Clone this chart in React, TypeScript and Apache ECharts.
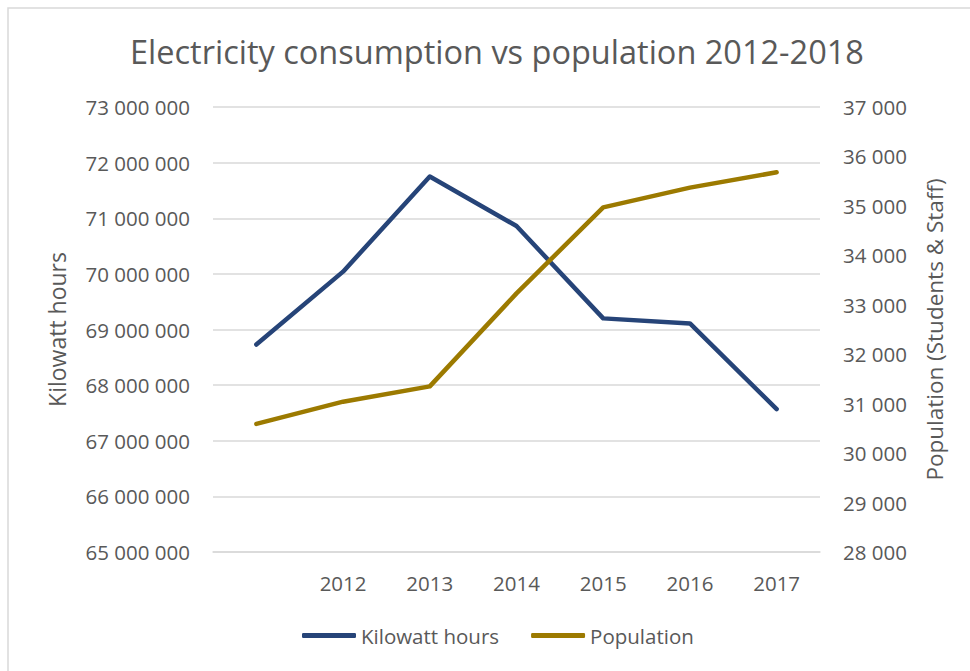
import React, { useEffect, useRef } from "react";
import * as echarts from "echarts";

const categories = ["", "2012", "2013", "2014", "2015", "2016", "2017"];
const kwhValues = [68730000, 70040000, 71750000, 70860000, 69200000, 69110000, 67570000];
const populationValues = [30590, 31040, 31350, 33230, 34970, 35370, 35680];

const FONT = "'Open Sans', sans-serif";
const TEXT = "#595959";
const GRID = "#d9d9d9";

const fmt = (v: number) => String(v).replace(/\B(?=(\d{3})+(?!\d))/g, " ");

export default function App() {
  const ref = useRef<HTMLDivElement>(null);
  useEffect(() => {
    if (!ref.current) return;
    const chart = echarts.init(ref.current, undefined, { renderer: "svg" });
    chart.setOption({
      animation: false,
      backgroundColor: "#ffffff",
      textStyle: { fontFamily: FONT },
      title: {
        text: "Electricity consumption vs population 2012-2018",
        left: 125,
        top: 30,
        textStyle: { fontFamily: FONT, fontSize: 32.5, fontWeight: "normal", color: TEXT },
      },
      graphic: [
        {
          type: "rect",
          shape: { x: 8, y: 8, width: 1200, height: 1200 },
          style: { fill: "none", stroke: GRID, lineWidth: 1.5 },
          silent: true,
        },
      ],
      legend: {
        top: 620,
        left: 297,
        itemWidth: 54,
        itemHeight: 5,
        itemGap: 32,
        icon: "roundRect",
        textStyle: { fontFamily: FONT, fontSize: 20.5, color: TEXT },
        data: ["Kilowatt hours", "Population"],
      },
      grid: { left: 213, right: 150, top: 107, bottom: 119 },
      xAxis: {
        type: "category",
        data: categories,
        boundaryGap: true,
        axisLine: { lineStyle: { color: GRID, width: 1.5 } },
        axisTick: { show: false },
        axisLabel: { color: TEXT, fontSize: 20.5, margin: 20, fontFamily: FONT },
      },
      yAxis: [
        {
          type: "value",
          min: 65000000,
          max: 73000000,
          interval: 1000000,
          name: "Kilowatt hours",
          nameLocation: "middle",
          nameGap: 145,
          nameRotate: 90,
          nameTextStyle: { color: TEXT, fontSize: 23, fontFamily: FONT },
          axisLine: { show: false },
          axisTick: { show: false },
          axisLabel: { color: TEXT, fontSize: 20.5, margin: 23, formatter: fmt, fontFamily: FONT },
          splitLine: { lineStyle: { color: GRID, width: 1.5 } },
        },
        {
          type: "value",
          position: "right",
          min: 28000,
          max: 37000,
          interval: 1000,
          name: "Population (Students & Staff)",
          nameLocation: "middle",
          nameGap: 103,
          nameRotate: 90,
          nameTextStyle: { color: TEXT, fontSize: 22.5, fontFamily: FONT },
          axisLine: { show: false },
          axisTick: { show: false },
          axisLabel: { color: TEXT, fontSize: 20.5, margin: 23, formatter: fmt, fontFamily: FONT },
          splitLine: { show: false },
        },
      ],
      series: [
        {
          name: "Kilowatt hours",
          type: "line",
          yAxisIndex: 0,
          data: kwhValues,
          symbol: "none",
          color: "#264478",
          lineStyle: { width: 4.5, color: "#264478", cap: "round", join: "round" },
        },
        {
          name: "Population",
          type: "line",
          yAxisIndex: 1,
          data: populationValues,
          symbol: "none",
          color: "#9C7A00",
          lineStyle: { width: 4.5, color: "#9C7A00", cap: "round", join: "round" },
        },
      ],
    });
    return () => chart.dispose();
  }, []);
  return (
    <div
      ref={ref}
      style={{ position: "fixed", left: 0, top: 0, width: 970, height: 671 }}
    />
  );
}
